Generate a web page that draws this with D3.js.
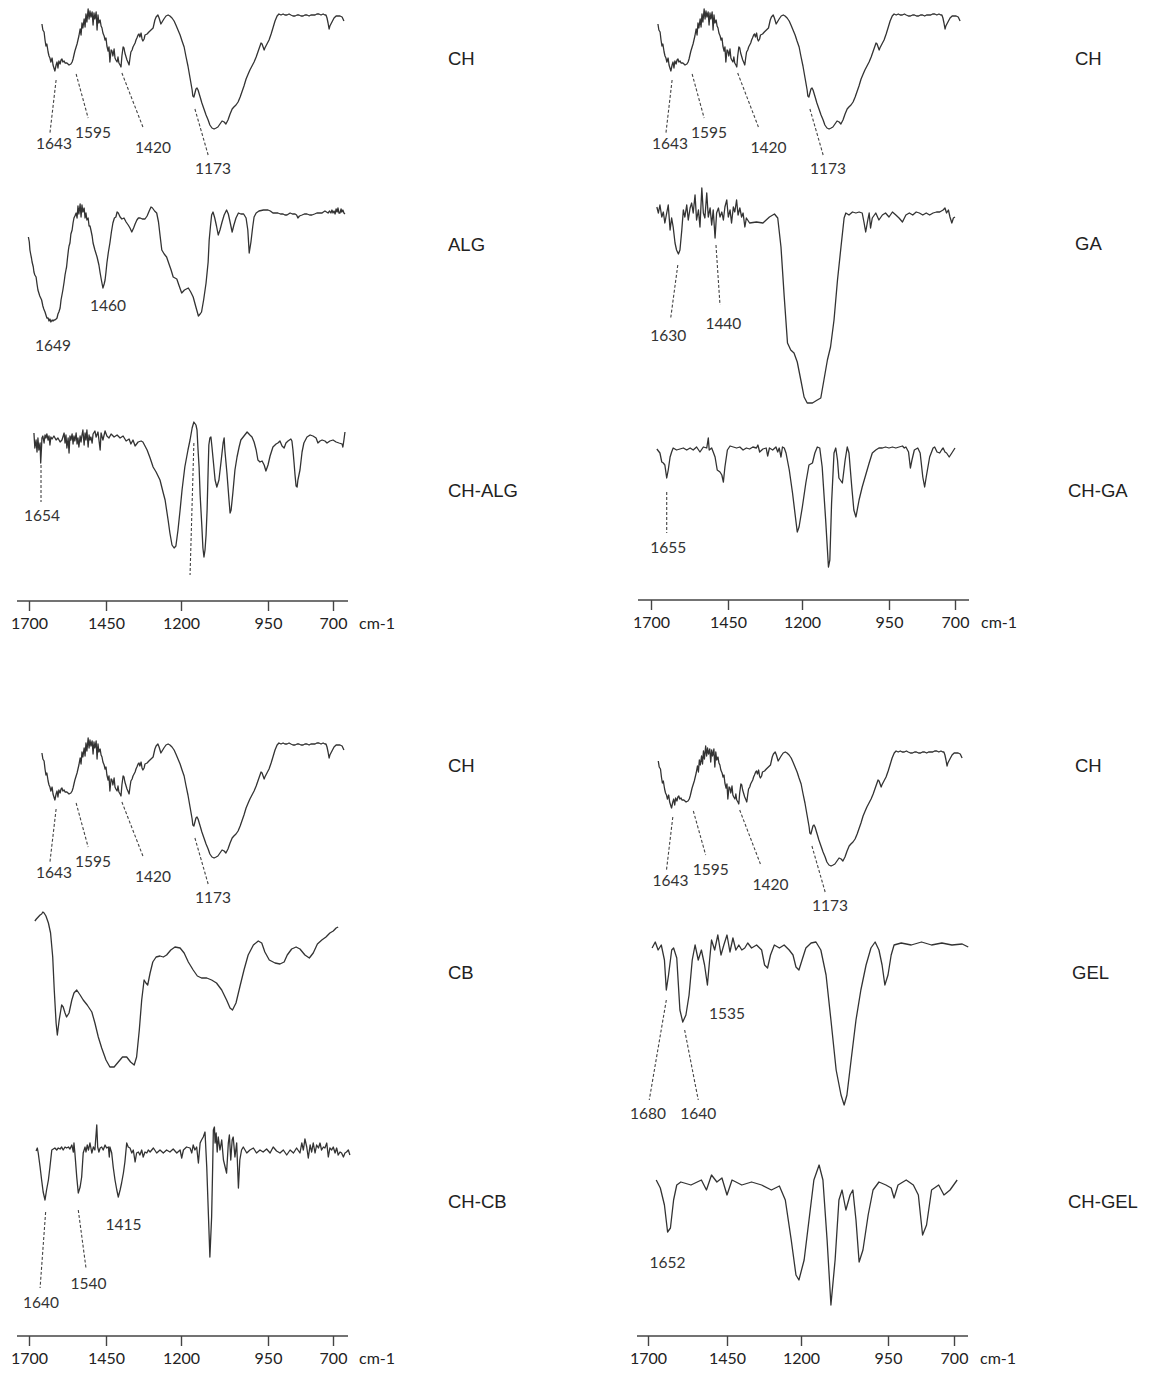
<!DOCTYPE html>
<html>
<head>
<meta charset="utf-8">
<script src="https://cdn.jsdelivr.net/npm/d3@7"></script>
<style>
  html, body { margin: 0; padding: 0; background: #fff; }
  svg { display: block; }
</style>
</head>
<body>
<svg id="fig" width="1150" height="1373"></svg>
<script>
// ---- Axis definition (wavenumber, cm-1) ----
const WAVENUMBER_TICKS = [1700, 1450, 1200, 950, 700];
const TICK_LABELS = ["1700", "1450", "1200", "950", "700"];
const UNIT_LABEL = "cm-1";

// ---- FTIR spectra: [wavenumber cm-1, transmittance a.u.] ----
const CH = [[1658,116],[1655,110],[1651,108],[1648,100],[1645,94],[1642,96],[1638,88],[1635,84],[1632,82],[1629,78],[1625,82],[1622,75],[1619,72],[1616,69],[1612,75],[1609,78],[1606,72],[1603,79],[1599,76],[1596,80],[1593,81],[1590,78],[1586,79],[1583,77],[1577,77],[1570,75],[1564,76],[1560,78],[1557,81],[1554,85],[1551,89],[1547,93],[1544,96],[1541,100],[1538,104],[1534,111],[1531,105],[1528,117],[1525,112],[1521,121],[1518,113],[1515,126],[1512,118],[1508,131],[1505,121],[1502,129],[1499,123],[1495,128],[1492,115],[1489,127],[1486,121],[1482,128],[1479,110],[1476,125],[1473,117],[1469,120],[1466,114],[1463,112],[1460,107],[1456,104],[1453,100],[1450,102],[1447,94],[1443,89],[1440,93],[1437,78],[1433,90],[1430,89],[1427,84],[1423,91],[1420,82],[1417,80],[1413,78],[1410,83],[1407,77],[1403,75],[1400,73],[1397,84],[1393,93],[1390,92],[1387,87],[1383,83],[1380,80],[1377,78],[1373,75],[1370,82],[1367,88],[1363,90],[1360,93],[1353,97],[1350,100],[1347,102],[1343,105],[1340,106],[1337,103],[1333,107],[1330,101],[1327,99],[1323,101],[1320,105],[1313,106],[1307,108],[1300,110],[1293,112],[1290,116],[1287,120],[1283,123],[1277,125],[1273,122],[1270,119],[1267,116],[1263,118],[1257,121],[1250,124],[1243,125],[1237,124],[1230,122],[1223,119],[1217,115],[1210,110],[1203,105],[1197,99],[1191,93],[1186,84],[1180,74],[1174,62],[1168,50],[1166,44],[1163,43],[1160,47],[1157,51],[1154,52],[1151,50],[1145,43],[1140,37],[1134,31],[1128,25],[1122,20],[1117,15],[1111,12],[1105,11],[1099,12],[1094,13],[1088,16],[1082,19],[1076,18],[1071,16],[1065,20],[1059,26],[1053,31],[1048,33],[1042,35],[1036,38],[1030,43],[1025,48],[1019,54],[1013,61],[1007,66],[1002,70],[996,74],[990,78],[984,83],[979,88],[973,94],[970,97],[967,96],[964,93],[961,90],[959,92],[953,96],[946,100],[938,106],[931,112],[923,119],[915,124],[908,126],[900,125],[892,126],[885,125],[877,125],[869,126],[862,125],[854,124],[846,124],[838,125],[831,125],[823,124],[815,124],[808,125],[800,125],[792,124],[785,125],[777,125],[769,125],[762,126],[754,126],[746,125],[738,126],[731,125],[727,125],[723,122],[719,117],[715,111],[712,114],[708,116],[704,118],[696,122],[688,124],[681,124],[673,124],[665,123],[658,119]];

const ALG = [[1702,93],[1699,88],[1697,80],[1694,75],[1692,72],[1690,68],[1686,63],[1684,58],[1681,55],[1677,53],[1674,46],[1671,40],[1668,37],[1665,34],[1662,32],[1659,30],[1655,24],[1652,21],[1648,18],[1645,15],[1642,12],[1638,12],[1635,9],[1632,11],[1629,8],[1625,10],[1622,9],[1619,10],[1616,10],[1612,11],[1609,12],[1606,16],[1603,18],[1599,22],[1596,30],[1593,35],[1590,40],[1586,48],[1583,55],[1580,60],[1578,63],[1575,72],[1572,80],[1570,84],[1567,87],[1564,96],[1560,100],[1557,107],[1554,112],[1551,114],[1547,117],[1544,112],[1541,124],[1538,116],[1534,126],[1531,113],[1528,125],[1525,118],[1521,122],[1518,112],[1515,117],[1512,110],[1508,112],[1505,104],[1502,104],[1499,100],[1495,94],[1492,87],[1486,80],[1479,73],[1473,65],[1469,57],[1465,50],[1460,42],[1456,46],[1453,50],[1450,58],[1447,67],[1442,78],[1437,87],[1432,98],[1427,107],[1422,112],[1417,113],[1413,118],[1409,117],[1403,113],[1397,111],[1390,112],[1383,108],[1376,105],[1370,102],[1364,98],[1358,102],[1353,106],[1347,110],[1342,112],[1336,112],[1329,111],[1320,111],[1313,114],[1306,119],[1300,123],[1295,122],[1288,119],[1281,117],[1275,108],[1270,95],[1264,80],[1256,76],[1248,73],[1240,66],[1233,60],[1226,53],[1220,52],[1214,51],[1206,44],[1198,37],[1190,40],[1179,42],[1172,38],[1165,33],[1158,24],[1150,14],[1145,16],[1141,18],[1135,30],[1128,47],[1122,68],[1119,90],[1115,105],[1112,115],[1108,118],[1103,112],[1098,104],[1093,95],[1088,100],[1082,108],[1076,115],[1069,120],[1064,116],[1059,108],[1053,98],[1048,105],[1042,112],[1035,117],[1028,116],[1020,116],[1013,112],[1008,100],[1004,77],[999,88],[994,103],[990,113],[984,117],[976,119],[963,120],[950,120],[941,119],[931,117],[921,117],[912,117],[902,116],[892,116],[885,115],[877,115],[871,116],[865,117],[856,116],[846,116],[840,115],[835,112],[829,114],[819,115],[810,116],[800,116],[790,115],[781,115],[771,116],[762,117],[752,117],[742,117],[737,118],[731,119],[725,118],[719,117],[713,119],[708,117],[704,120],[700,117],[696,119],[692,116],[688,121],[684,118],[681,122],[677,117],[673,117],[669,121],[666,118],[662,120],[658,117],[654,116]];

const CH_ALG = [[1684,137],[1681,122],[1677,130],[1674,118],[1671,132],[1668,120],[1664,127],[1662,107],[1659,125],[1658,132],[1655,134],[1651,127],[1648,135],[1645,132],[1642,136],[1638,130],[1635,134],[1632,125],[1629,133],[1625,131],[1619,134],[1612,130],[1606,132],[1599,128],[1593,130],[1586,137],[1583,127],[1580,135],[1577,122],[1573,132],[1570,117],[1567,134],[1564,130],[1560,136],[1557,126],[1554,134],[1551,129],[1547,137],[1544,126],[1541,132],[1538,123],[1534,134],[1531,128],[1528,135],[1525,140],[1521,125],[1518,137],[1515,130],[1512,140],[1508,123],[1505,135],[1502,130],[1499,133],[1495,127],[1492,136],[1486,139],[1482,133],[1476,138],[1469,120],[1466,137],[1460,130],[1453,139],[1447,134],[1440,132],[1433,136],[1423,133],[1413,135],[1403,132],[1393,134],[1383,129],[1373,131],[1367,126],[1360,130],[1353,124],[1343,128],[1333,129],[1327,128],[1313,120],[1303,112],[1293,103],[1283,98],[1270,90],[1260,78],[1253,70],[1243,50],[1237,37],[1230,25],[1223,22],[1217,24],[1210,40],[1203,60],[1197,80],[1189,103],[1180,120],[1174,130],[1168,142],[1163,148],[1157,145],[1154,140],[1151,120],[1148,103],[1145,75],[1140,43],[1137,22],[1134,13],[1131,20],[1128,35],[1125,60],[1122,100],[1120,125],[1117,132],[1114,133],[1111,123],[1108,112],[1102,90],[1097,83],[1091,90],[1085,108],[1079,127],[1076,132],[1074,120],[1068,97],[1062,70],[1059,57],[1056,60],[1051,77],[1045,100],[1039,113],[1033,123],[1028,130],[1019,134],[1010,138],[1002,135],[996,133],[990,128],[984,120],[979,110],[973,108],[967,109],[961,105],[956,99],[950,105],[942,114],[931,123],[919,126],[912,127],[904,129],[896,124],[888,122],[881,127],[873,129],[862,131],[858,129],[854,120],[850,108],[846,95],[842,84],[838,83],[835,90],[827,100],[819,118],[812,127],[800,133],[788,135],[777,134],[765,132],[758,127],[750,129],[742,130],[731,129],[723,127],[712,129],[700,130],[688,128],[677,127],[665,126],[662,123],[658,130],[654,138]];

const GA = [[1681,203],[1676,197],[1671,205],[1665,193],[1660,198],[1655,187],[1649,197],[1644,205],[1638,180],[1633,192],[1628,183],[1622,167],[1617,160],[1611,156],[1606,160],[1600,180],[1595,200],[1590,193],[1584,205],[1579,190],[1573,202],[1568,207],[1563,197],[1557,215],[1552,190],[1546,200],[1541,183],[1535,222],[1530,197],[1525,192],[1519,217],[1514,193],[1508,202],[1503,185],[1498,200],[1492,172],[1487,197],[1481,202],[1476,193],[1470,198],[1465,190],[1460,203],[1454,210],[1449,193],[1443,200],[1438,187],[1432,203],[1427,198],[1421,210],[1416,195],[1410,202],[1404,193],[1399,197],[1393,183],[1388,192],[1377,187],[1354,188],[1332,187],[1310,193],[1293,196],[1282,192],[1271,163],[1260,113],[1249,67],[1238,60],[1227,57],[1216,48],[1204,30],[1194,13],[1185,7],[1170,7],[1156,10],[1146,12],[1137,30],[1127,50],[1118,63],[1108,90],[1098,130],[1088,163],[1079,192],[1074,197],[1065,195],[1055,198],[1045,197],[1036,198],[1027,197],[1022,188],[1017,178],[1012,188],[1007,197],[1003,182],[998,192],[988,197],[979,190],[969,195],[960,197],[950,193],[937,198],[924,195],[912,192],[899,188],[886,195],[873,197],[860,195],[847,198],[835,197],[822,195],[809,197],[796,195],[783,197],[770,198],[758,198],[745,200],[738,202],[732,197],[725,200],[719,193],[712,187],[706,192],[700,193]];

const CH_GA = [[1681,121],[1671,117],[1665,108],[1660,107],[1655,105],[1649,92],[1644,100],[1638,113],[1633,118],[1628,122],[1617,120],[1606,121],[1595,122],[1584,120],[1573,122],[1563,120],[1552,123],[1541,118],[1530,123],[1519,122],[1514,132],[1511,120],[1503,122],[1498,118],[1492,113],[1485,100],[1476,98],[1470,95],[1465,88],[1460,103],[1452,120],[1443,124],[1432,123],[1421,122],[1410,123],[1399,120],[1388,122],[1377,121],[1366,123],[1354,122],[1349,125],[1343,118],[1332,121],[1321,122],[1316,114],[1310,122],[1299,120],[1288,123],[1282,118],[1277,122],[1271,113],[1266,123],[1260,122],[1254,117],[1243,100],[1232,77],[1221,50],[1216,38],[1210,43],[1199,63],[1189,87],[1180,105],[1170,107],[1163,117],[1156,123],[1149,122],[1142,103],[1132,50],[1124,3],[1120,10],[1115,67],[1108,117],[1103,122],[1098,110],[1094,92],[1084,87],[1076,110],[1070,123],[1065,117],[1057,83],[1051,60],[1045,53],[1036,70],[1027,83],[1017,95],[1007,107],[998,117],[988,120],[979,122],[969,122],[960,123],[950,122],[937,123],[924,122],[912,123],[899,124],[892,122],[886,123],[876,118],[869,102],[863,110],[854,120],[841,122],[832,117],[822,93],[815,83],[809,93],[796,113],[783,122],[777,123],[768,118],[758,117],[751,120],[745,122],[738,118],[732,117],[722,113],[712,117],[700,122]];

const CB = [[1681,159],[1676,161],[1670,163],[1664,165],[1659,166],[1655,168],[1651,167],[1645,164],[1637,157],[1630,147],[1623,123],[1618,90],[1612,57],[1608,45],[1602,60],[1594,75],[1589,73],[1583,67],[1578,63],[1570,67],[1561,80],[1554,87],[1545,90],[1534,85],[1524,80],[1511,75],[1496,68],[1486,57],[1475,43],[1464,32],[1450,20],[1437,13],[1423,13],[1409,18],[1395,23],[1381,23],[1368,18],[1356,15],[1348,23],[1339,50],[1331,80],[1323,100],[1317,97],[1311,95],[1303,107],[1294,118],[1283,123],[1270,124],[1259,123],[1248,125],[1234,130],[1220,133],[1203,132],[1191,127],[1179,118],[1165,110],[1153,104],[1141,102],[1126,102],[1112,100],[1098,97],[1083,90],[1069,80],[1059,72],[1052,70],[1042,77],[1031,93],[1019,110],[1007,125],[992,135],[978,139],[968,137],[959,128],[945,120],[923,117],[904,116],[888,118],[876,125],[859,131],[842,133],[827,131],[808,125],[791,122],[776,127],[760,136],[743,140],[727,143],[712,147],[699,149],[688,152],[680,153]];

const CH_CB = [[1677,149],[1673,152],[1670,147],[1664,133],[1659,120],[1654,108],[1648,100],[1643,110],[1637,120],[1632,133],[1626,150],[1621,151],[1616,152],[1610,150],[1605,152],[1599,151],[1594,153],[1589,150],[1583,153],[1578,152],[1572,153],[1567,151],[1561,155],[1556,148],[1554,157],[1551,147],[1545,123],[1540,107],[1534,113],[1529,123],[1524,147],[1518,153],[1515,148],[1511,155],[1507,150],[1502,157],[1496,147],[1491,153],[1486,150],[1480,175],[1477,153],[1473,148],[1469,152],[1464,153],[1459,150],[1453,155],[1448,152],[1442,153],[1439,143],[1437,153],[1431,147],[1426,133],[1420,120],[1414,110],[1409,103],[1403,110],[1398,117],[1392,127],[1387,138],[1381,157],[1376,153],[1370,152],[1364,147],[1359,150],[1353,138],[1348,147],[1342,148],[1337,145],[1331,150],[1326,143],[1320,148],[1314,147],[1309,150],[1303,148],[1292,152],[1281,147],[1270,150],[1259,147],[1248,150],[1237,148],[1226,151],[1214,147],[1203,150],[1198,142],[1193,150],[1184,153],[1174,152],[1169,147],[1165,155],[1160,150],[1155,153],[1150,137],[1145,157],[1141,160],[1136,163],[1131,168],[1126,133],[1121,83],[1117,43],[1112,83],[1109,133],[1107,170],[1104,173],[1102,157],[1099,167],[1096,148],[1093,163],[1088,150],[1083,160],[1078,140],[1069,127],[1064,157],[1061,165],[1057,140],[1053,160],[1050,163],[1045,143],[1040,157],[1035,112],[1031,140],[1026,150],[1021,153],[1011,147],[1002,150],[992,152],[983,147],[973,150],[964,148],[954,151],[942,147],[930,153],[917,149],[904,147],[891,150],[878,145],[865,150],[852,147],[840,152],[827,147],[820,157],[814,150],[808,161],[801,153],[795,142],[788,155],[782,148],[776,157],[769,147],[763,155],[756,152],[750,157],[744,150],[737,153],[731,152],[724,157],[718,143],[712,152],[705,150],[699,153],[692,147],[686,152],[680,145],[673,148],[667,147],[660,143],[654,147],[648,148],[641,150],[635,145]];

const GEL = [[1687,162],[1677,168],[1668,160],[1658,165],[1648,150],[1642,120],[1635,135],[1625,160],[1619,162],[1609,152],[1599,100],[1590,88],[1580,95],[1570,115],[1560,150],[1551,165],[1541,150],[1531,160],[1521,145],[1512,125],[1505,150],[1499,170],[1489,160],[1479,175],[1469,155],[1460,165],[1450,175],[1440,158],[1430,172],[1420,160],[1410,165],[1400,160],[1390,162],[1380,167],[1367,162],[1350,165],[1333,160],[1323,145],[1313,142],[1303,155],[1290,165],[1273,162],[1257,165],[1240,160],[1227,155],[1217,143],[1207,140],[1197,150],[1186,162],[1171,167],[1157,168],[1143,160],[1128,135],[1114,90],[1099,40],[1085,15],[1076,5],[1068,15],[1056,50],[1042,90],[1028,120],[1013,145],[999,162],[987,168],[976,160],[967,145],[959,125],[950,135],[938,155],[927,165],[900,167],[862,165],[823,168],[785,165],[746,167],[708,165],[669,166],[646,163]];

const CH_GEL = [[1674,140],[1661,132],[1648,115],[1638,88],[1629,92],[1619,120],[1609,135],[1596,138],[1564,135],[1531,140],[1515,130],[1499,145],[1482,138],[1466,142],[1450,125],[1433,140],[1400,135],[1367,138],[1333,135],[1300,130],[1273,134],[1253,120],[1233,80],[1217,45],[1207,40],[1191,60],[1177,100],[1163,140],[1148,155],[1137,140],[1125,80],[1114,15],[1102,60],[1091,120],[1082,130],[1071,110],[1059,125],[1051,130],[1042,100],[1033,58],[1022,70],[1007,105],[993,130],[976,138],[956,135],[938,132],[927,122],[912,135],[881,140],[854,135],[835,125],[819,85],[804,95],[785,130],[758,135],[738,125],[715,130],[688,140]];

// ---- Band assignments: label, dashed leader (from/to) and label anchor, in [cm-1, a.u.] ----
const CH_PEAKS = [
  {label: "1643", from: [1612, 60], to: [1632, 7],   at: [1619, -3]},
  {label: "1595", from: [1547, 66], to: [1508, 22],  at: [1492, 8]},
  {label: "1420", from: [1397, 67], to: [1327, 13],  at: [1293, -7]},
  {label: "1173", from: [1160, 31], to: [1122, -15], at: [1108, -28]}
];
const ALG_PEAKS = [
  {label: "1649", at: [1622, -15]},
  {label: "1460", at: [1443, 25]}
];
const CH_ALG_PEAKS = [
  {label: "1654", from: [1661, 105], to: [1661, 68], at: [1658, 55]},
  {label: "",     from: [1163, 127], to: [1174, -5]}
];
const GA_PEAKS = [
  {label: "1630", from: [1613, 145], to: [1636, 92],  at: [1644, 75]},
  {label: "1440", from: [1489, 165], to: [1476, 105], at: [1465, 87]}
];
const CH_GA_PEAKS = [
  {label: "1655", from: [1649, 78], to: [1649, 37], at: [1644, 23]}
];
const CH_CB_PEAKS = [
  {label: "1640", from: [1646, 88], to: [1664, 12], at: [1661, -2]},
  {label: "1540", from: [1540, 90], to: [1515, 32], at: [1507, 17]},
  {label: "1415", at: [1392, 76]}
];
const GEL_PEAKS = [
  {label: "1680", from: [1642, 110], to: [1696, 10], at: [1700, -3]},
  {label: "1640", from: [1584, 80],  to: [1541, 10], at: [1541, -3]},
  {label: "1535", at: [1450, 97]}
];
const CH_GEL_PEAKS = [
  {label: "1652", at: [1638, 58]}
];

// ---- Layout of the four panels ----
const panels = [
  {tickX: [29, 106, 181, 268, 333], axisY: 601, axisX: [17, 348], unitX: 359, nameX: 448,
   traces: [
     {name: "CH",     data: CH,     base: 140, dx: 0, nameY: 58,  peaks: CH_PEAKS},
     {name: "ALG",    data: ALG,    base: 330, dx: 0, nameY: 244, peaks: ALG_PEAKS},
     {name: "CH-ALG", data: CH_ALG, base: 570, dx: 0, nameY: 490, peaks: CH_ALG_PEAKS}
   ]},
  {tickX: [651, 728, 802, 889, 955], axisY: 600, axisX: [638, 969], unitX: 981, nameX: 1075,
   traces: [
     {name: "CH",    data: CH,    base: 140, dx: -6, nameY: 58,  peaks: CH_PEAKS},
     {name: "GA",    data: GA,    base: 410, dx: 0,  nameY: 243, peaks: GA_PEAKS},
     {name: "CH-GA", data: CH_GA, base: 570, dx: 0,  nameY: 490, peaks: CH_GA_PEAKS, nameX: 1068}
   ]},
  {tickX: [29, 106, 181, 268, 333], axisY: 1336, axisX: [17, 348], unitX: 359, nameX: 448,
   traces: [
     {name: "CH",    data: CH,    base: 869,  dx: 0, nameY: 765,  peaks: CH_PEAKS},
     {name: "CB",    data: CB,    base: 1080, dx: 0, nameY: 972,  peaks: []},
     {name: "CH-CB", data: CH_CB, base: 1300, dx: 0, nameY: 1201, peaks: CH_CB_PEAKS}
   ]},
  {tickX: [648, 727, 801, 888, 954], axisY: 1336, axisX: [637, 968], unitX: 980, nameX: 1075,
   traces: [
     {name: "CH",     data: CH,     base: 877,  dx: -3, nameY: 765,  peaks: CH_PEAKS},
     {name: "GEL",    data: GEL,    base: 1110, dx: 0,  nameY: 972,  peaks: GEL_PEAKS, nameX: 1072},
     {name: "CH-GEL", data: CH_GEL, base: 1320, dx: 0,  nameY: 1201, peaks: CH_GEL_PEAKS, nameX: 1068}
   ]}
];

const svg = d3.select("#fig");
const TEXT_FONT = "Lato, 'Open Sans', sans-serif";
const NAME_FONT = "'Liberation Sans', Arial, sans-serif";

panels.forEach(p => {
  // piecewise-linear wavenumber scale following the tick marks of this panel
  const x = d3.scaleLinear().domain(WAVENUMBER_TICKS).range(p.tickX);
  const g = svg.append("g");

  // x axis
  const axisG = g.append("g").attr("transform", `translate(0,${p.axisY})`);
  axisG.append("line")
    .attr("x1", p.axisX[0]).attr("x2", p.axisX[1])
    .attr("y1", 0).attr("y2", 0)
    .attr("stroke", "#444").attr("stroke-width", 1.4);
  const axis = d3.axisBottom(x).tickValues(WAVENUMBER_TICKS)
    .tickFormat((d, i) => TICK_LABELS[i]).tickSize(10).tickPadding(7);
  axisG.append("g").call(axis).call(a => {
    a.select(".domain").remove();
    a.selectAll(".tick line").attr("stroke", "#444").attr("stroke-width", 1.4);
    a.selectAll(".tick text").attr("font-family", TEXT_FONT).attr("font-size", 16).attr("fill", "#222");
  });
  axisG.append("text")
    .attr("x", p.unitX).attr("y", 28)
    .attr("font-family", TEXT_FONT).attr("font-size", 16).attr("fill", "#222")
    .text(UNIT_LABEL);

  p.traces.forEach(t => {
    const y = d3.scaleLinear().domain([0, 100]).range([t.base, t.base - 100]);
    const tg = g.append("g").attr("transform", `translate(${t.dx},0)`);
    const line = d3.line().x(d => x(d[0])).y(d => y(d[1]));
    tg.append("path").datum(t.data)
      .attr("d", line)
      .attr("fill", "none").attr("stroke", "#333")
      .attr("stroke-width", 1.3).attr("stroke-linejoin", "round");

    t.peaks.forEach(pk => {
      if (pk.from) {
        tg.append("line")
          .attr("x1", x(pk.from[0])).attr("y1", y(pk.from[1]))
          .attr("x2", x(pk.to[0])).attr("y2", y(pk.to[1]))
          .attr("stroke", "#444").attr("stroke-width", 1.1).attr("stroke-dasharray", "3,2");
      }
      if (pk.label && pk.at) {
        tg.append("text")
          .attr("x", x(pk.at[0])).attr("y", y(pk.at[1]))
          .attr("text-anchor", "middle").attr("dominant-baseline", "central")
          .attr("font-family", TEXT_FONT).attr("font-size", 15.5).attr("fill", "#333")
          .text(pk.label);
      }
    });

    g.append("text")
      .attr("x", t.nameX || p.nameX).attr("y", t.nameY)
      .attr("dominant-baseline", "central")
      .attr("font-family", NAME_FONT).attr("font-size", 18.5).attr("fill", "#222")
      .text(t.name);
  });
});
</script>
</body>
</html>
